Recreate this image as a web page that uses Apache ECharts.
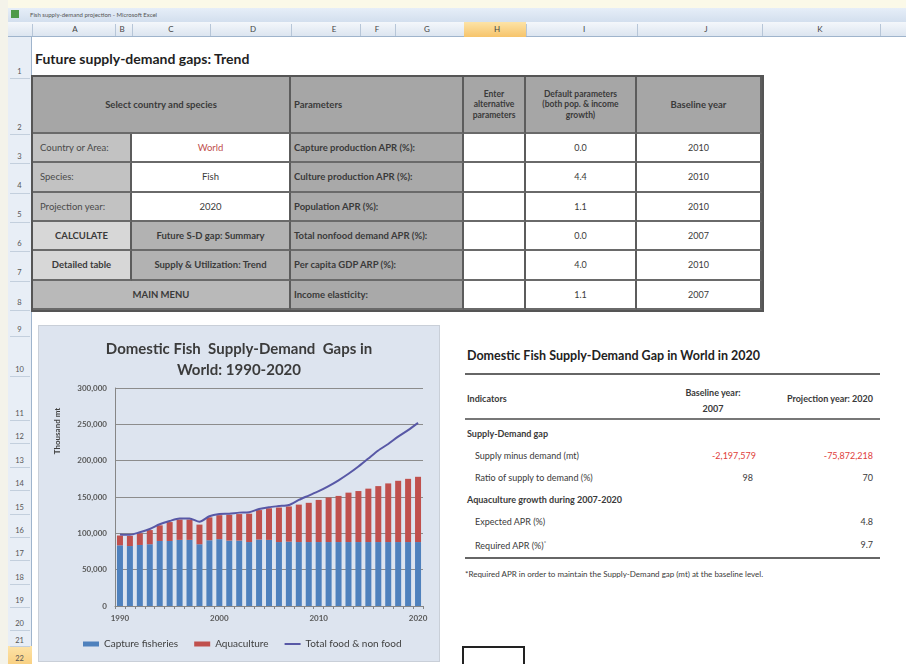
<!DOCTYPE html>
<html>
<head>
<meta charset="utf-8">
<script src="https://cdn.jsdelivr.net/npm/echarts@6/dist/echarts.min.js"></script>
<style>
  body { margin: 0; width: 906px; height: 664px; overflow: hidden; position: relative; background: #fff;
         font-family: Lato, "Liberation Sans", sans-serif; color: #3a3a3a; }
  .a { position: absolute; box-sizing: border-box; white-space: nowrap; }
  .c { position: absolute; box-sizing: border-box; display: flex; align-items: center; font-size: 9.5px;
       border-right: 2px solid #5c5c5c; border-bottom: 2px solid #6a6a6a; line-height: 1.25; }
  .hd { background: #a6a6a6; font-weight: bold; justify-content: center; text-align: center; }
  .lb { background: #c2c2c2; padding-left: 7px; color: #4a4a4a; }
  .wv { background: #fff; justify-content: center; }
  .b1 { background: #d7d7d7; font-weight: bold; justify-content: center; }
  .b2 { background: #b2b2b2; font-weight: bold; justify-content: center; }
  .pm { background: #a9a9a9; font-weight: bold; padding-left: 3px; }
  .rt { position: absolute; font-size: 9px; color: #3a3a3a; white-space: nowrap; }
  #chart { position: absolute; left: 38px; top: 325px; width: 402px; height: 337px; border: 1px solid #c9cfd8; box-sizing: border-box; }
</style>
</head>
<body>
<div class="a" style="left:0;top:0;width:906px;height:8px;background:#fbf9e8"></div>
<div class="a" style="left:0;top:0;width:8px;height:664px;background:#f4f3ea"></div>
<div class="a" style="left:8px;top:8px;width:898px;height:14px;background:linear-gradient(#e6eef8,#d3dfee);font-size:6px;color:#555;padding:3px 0 0 22px">Fish supply-demand projection - Microsoft Excel</div>
<div class="a" style="left:11px;top:10px;width:8px;height:8px;background:#4e9a4a"></div>
<div class="a" id="colhead" style="left:8px;top:22px;width:898px;height:15px;background:linear-gradient(#f4f7fb,#dce5f0);border-bottom:1px solid #9fb4cc"></div>
<div class="a" id="rowhead" style="left:8px;top:37px;width:24px;height:627px;background:#e8eef6;border-right:1px solid #9fb4cc"></div>
<div class="a" style="left:35px;top:50px;font-size:14px;font-weight:bold;color:#1f1f1f">Future supply-demand gaps: Trend</div>

<div id="tbl"></div>

<div id="chart"></div>

<div class="a" style="left:467px;top:348px;font-size:12.5px;font-weight:bold;color:#222">Domestic Fish Supply-Demand Gap in World in 2020</div>
<div class="a" style="left:465px;top:373px;width:415px;height:2px;background:#666"></div>
<div class="rt" style="left:467px;top:393px;font-weight:bold">Indicators</div>
<div class="rt" style="left:673px;top:385px;width:80px;text-align:center;font-weight:bold;line-height:16px">Baseline year:<br>2007</div>
<div class="rt" style="right:33px;top:393px;font-weight:bold">Projection year: 2020</div>
<div class="a" style="left:465px;top:418px;width:415px;height:2px;background:#777"></div>
<div class="rt" style="left:467px;top:428px;font-weight:bold">Supply-Demand gap</div>
<div class="rt" style="left:475px;top:450px">Supply minus demand (mt)</div>
<div class="rt" style="right:150px;top:450px;color:#e0403a">-2,197,579</div>
<div class="rt" style="right:33px;top:450px;color:#e0403a">-75,872,218</div>
<div class="rt" style="left:475px;top:472px">Ratio of supply to demand (%)</div>
<div class="rt" style="right:153px;top:472px">98</div>
<div class="rt" style="right:33px;top:472px">70</div>
<div class="rt" style="left:467px;top:494px;font-weight:bold">Aquaculture growth during 2007-2020</div>
<div class="rt" style="left:475px;top:516px">Expected APR (%)</div>
<div class="rt" style="right:33px;top:516px">4.8</div>
<div class="rt" style="left:475px;top:539px">Required APR (%)<sup style="font-size:6px">*</sup></div>
<div class="rt" style="right:33px;top:539px">9.7</div>
<div class="a" style="left:465px;top:557px;width:415px;height:2px;background:#666"></div>
<div class="rt" style="left:465px;top:569px;font-size:8px">*Required APR in order to maintain the Supply-Demand gap (mt) at the baseline level.</div>

<div class="a" style="left:462px;top:646px;width:63px;height:24px;border:2px solid #222"></div>

<script>
// chart data (thousand mt)
const years = ['1990', '1991', '1992', '1993', '1994', '1995', '1996', '1997', '1998', '1999',
  '2000', '2001', '2002', '2003', '2004', '2005', '2006', '2007', '2008', '2009',
  '2010', '2011', '2012', '2013', '2014', '2015', '2016', '2017', '2018', '2019', '2020'];
const capture = [83500, 82500, 84000, 85000, 89500, 89500, 91000, 91000, 85000, 90500,
  92000, 90000, 90000, 88000, 91500, 91000, 88000, 88500, 88000, 88000,
  88000, 88000, 88000, 88000, 88000, 88000, 88000, 88000, 88000, 88000, 88000];
const aquaculture = [13500, 14000, 16000, 19500, 21500, 26000, 28000, 28000, 27000, 31500,
  33000, 35500, 36500, 39000, 40500, 43500, 47500, 48500, 51500, 54000,
  58000, 61300, 63500, 68000, 70200, 73500, 77000, 80700, 84300, 87000, 89800];
const totalDemand = [98500, 98000, 101500, 106000, 112500, 117000, 120500, 120500, 116000, 123500,
  126500, 127000, 128500, 129000, 133500, 136000, 137500, 139000, 146000, 152000,
  158000, 165000, 173000, 182000, 192000, 203000, 214000, 223000, 233000, 242000, 252000];
const legendNames = ['Capture fisheries', 'Aquaculture', 'Total food & non food'];

// spreadsheet bits
const colLetters = [['A', 75], ['B', 122], ['C', 171], ['D', 253], ['E', 334], ['F', 377], ['G', 427],
  ['H', 497], ['I', 584], ['J', 706], ['K', 820]];
const colBounds = [32, 115, 132, 210, 291, 360, 395, 464, 526, 637, 762, 880];
const rowNums = [[1, 72], [2, 128], [3, 157], [4, 186], [5, 215], [6, 244], [7, 273], [8, 303], [9, 330],
  [10, 370], [11, 414], [12, 437], [13, 461], [14, 484], [15, 508], [16, 531], [17, 554], [18, 578],
  [19, 601], [20, 624], [21, 641], [22, 659]];
const rowBounds = [78, 134, 163, 193, 222, 251, 281, 310, 336, 376, 420, 443, 467, 490, 514, 537, 560, 584, 607, 630, 646];

function put(parent, x, y, w, h, html, cls, css) {
  const d = document.createElement('div');
  d.className = cls || 'a';
  d.style.cssText = `left:${x}px;top:${y}px;width:${w}px;height:${h}px;` + (css || '');
  d.innerHTML = html;
  parent.appendChild(d);
  return d;
}

const ch = document.getElementById('colhead');
colBounds.forEach((b) => put(ch, b - 8, 2, 1, 12, '', 'a', 'background:#b7c6d8'));
put(ch, 464 - 8, 0, 62, 15, '', 'a', 'background:linear-gradient(#fde3a7,#f6c46b)');
colLetters.forEach(([t, x]) => put(ch, x - 8 - 10, 2, 20, 12, t, 'a', 'font-size:8px;text-align:center;color:#444'));

const rh = document.getElementById('rowhead');
put(rh, 0, 646 - 37, 24, 30, '', 'a', 'background:linear-gradient(#fde3a7,#f6c46b)');
rowBounds.forEach((y) => put(rh, 2, y - 37, 20, 1, '', 'a', 'background:#c3cfdd'));
rowNums.forEach(([n, y]) => put(rh, 0, y - 37 - 5, 23, 10, String(n), 'a', 'font-size:7.5px;text-align:center;color:#555'));

// parameters table
const tb = document.getElementById('tbl');
const X = [33, 132, 291, 464, 526, 637, 762];
const Y = [77, 134, 163, 193, 222, 251, 281, 310];
put(tb, X[0] - 2, Y[0] - 2, X[6] - X[0] + 4, Y[7] - Y[0] + 4, '', 'a', 'border:2px solid #555');
put(tb, X[0], Y[0], X[2] - X[0], Y[1] - Y[0], 'Select country and species', 'c hd');
put(tb, X[2], Y[0], X[3] - X[2], Y[1] - Y[0], 'Parameters', 'c hd', 'justify-content:flex-start;padding-left:3px');
put(tb, X[3], Y[0], X[4] - X[3], Y[1] - Y[0], 'Enter<br>alternative<br>parameters', 'c hd', 'font-size:8.5px');
put(tb, X[4], Y[0], X[5] - X[4], Y[1] - Y[0], 'Default parameters<br>(both pop. &amp; income<br>growth)', 'c hd', 'font-size:8.5px');
put(tb, X[5], Y[0], X[6] - X[5], Y[1] - Y[0], 'Baseline year', 'c hd');

const selLabels = ['Country or Area:', 'Species:', 'Projection year:'];
const selValues = ['World', 'Fish', '2020'];
selLabels.forEach((t, i) => {
  put(tb, X[0], Y[i + 1], X[1] - X[0], Y[i + 2] - Y[i + 1], t, 'c lb');
  put(tb, X[1], Y[i + 1], X[2] - X[1], Y[i + 2] - Y[i + 1], selValues[i], 'c wv', i === 0 ? 'color:#c0504d' : '');
});
put(tb, X[0], Y[4], X[1] - X[0], Y[5] - Y[4], 'CALCULATE', 'c b1');
put(tb, X[1], Y[4], X[2] - X[1], Y[5] - Y[4], 'Future S-D gap: Summary', 'c b2');
put(tb, X[0], Y[5], X[1] - X[0], Y[6] - Y[5], 'Detailed table', 'c b1');
put(tb, X[1], Y[5], X[2] - X[1], Y[6] - Y[5], 'Supply &amp; Utilization: Trend', 'c b2');
put(tb, X[0], Y[6], X[2] - X[0], Y[7] - Y[6], 'MAIN MENU', 'c b2', 'background:#b9b9b9');

const paramNames = ['Capture production APR (%):', 'Culture production APR (%):', 'Population APR (%):',
  'Total nonfood demand APR (%):', 'Per capita GDP ARP (%):', 'Income elasticity:'];
const paramDefaults = ['0.0', '4.4', '1.1', '0.0', '4.0', '1.1'];
const baselineYears = ['2010', '2010', '2010', '2007', '2010', '2007'];
paramNames.forEach((t, i) => {
  const y = Y[i + 1], h = Y[i + 2] - Y[i + 1];
  put(tb, X[2], y, X[3] - X[2], h, t, 'c pm');
  put(tb, X[3], y, X[4] - X[3], h, '', 'c wv');
  put(tb, X[4], y, X[5] - X[4], h, paramDefaults[i], 'c wv', 'font-size:9px');
  put(tb, X[5], y, X[6] - X[5], h, baselineYears[i], 'c wv', 'font-size:9px');
});

// chart
const chart = echarts.init(document.getElementById('chart'));
chart.setOption({
  backgroundColor: '#dde4ef',
  animation: false,
  title: {
    text: 'Domestic Fish  Supply-Demand  Gaps in\nWorld: 1990-2020',
    left: 'center',
    top: 8,
    textStyle: { fontFamily: 'Lato', fontSize: 15, fontWeight: 'bold', color: '#3b3b3b', lineHeight: 21 },
  },
  grid: { left: 76, right: 16, top: 62, bottom: 55 },
  legend: {
    data: [
      { name: legendNames[0], icon: 'rect' },
      { name: legendNames[1], icon: 'rect' },
      { name: legendNames[2], icon: 'path://M0,0L16,0L16,2L0,2Z', itemStyle: { color: '#5858a6' } },
    ],
    left: 44,
    top: 313,
    padding: 0,
    itemWidth: 16,
    itemHeight: 5,
    itemGap: 16,
    textStyle: { fontFamily: 'Lato', fontSize: 10, color: '#404040' },
  },
  xAxis: {
    type: 'category',
    data: years,
    axisLine: { lineStyle: { color: '#868686' } },
    axisTick: { show: true, interval: 0, length: 3, lineStyle: { color: '#868686' } },
    axisLabel: {
      interval: (i) => i % 10 === 0,
      margin: 8,
      fontFamily: 'Lato', fontSize: 8, fontWeight: 'bold', color: '#595959',
    },
  },
  yAxis: {
    type: 'value',
    min: 0,
    max: 300000,
    interval: 50000,
    axisLine: { show: true, lineStyle: { color: '#868686' } },
    axisTick: { show: false },
    splitLine: { lineStyle: { color: '#8c8c8c' } },
    axisLabel: {
      formatter: (v) => v.toLocaleString('en-US'),
      margin: 8,
      fontFamily: 'Lato', fontSize: 8, fontWeight: 'bold', color: '#595959',
    },
  },
  graphic: [{
    type: 'text',
    x: 18,
    y: 105,
    rotation: Math.PI / 2,
    style: { text: 'Thousand mt', font: 'bold 8px Lato', fill: '#404040', textAlign: 'center', textVerticalAlign: 'middle' },
  }],
  series: [
    { name: legendNames[0], type: 'bar', stack: 'supply', data: capture, barWidth: 6, itemStyle: { color: '#4f81bd' } },
    { name: legendNames[1], type: 'bar', stack: 'supply', data: aquaculture, barWidth: 6, itemStyle: { color: '#c0504d' } },
    {
      name: legendNames[2], type: 'line', data: totalDemand, symbol: 'none', smooth: 0.25,
      lineStyle: { color: '#5858a6', width: 2 }, itemStyle: { color: '#5858a6' },
    },
  ],
});
</script>
</body>
</html>
